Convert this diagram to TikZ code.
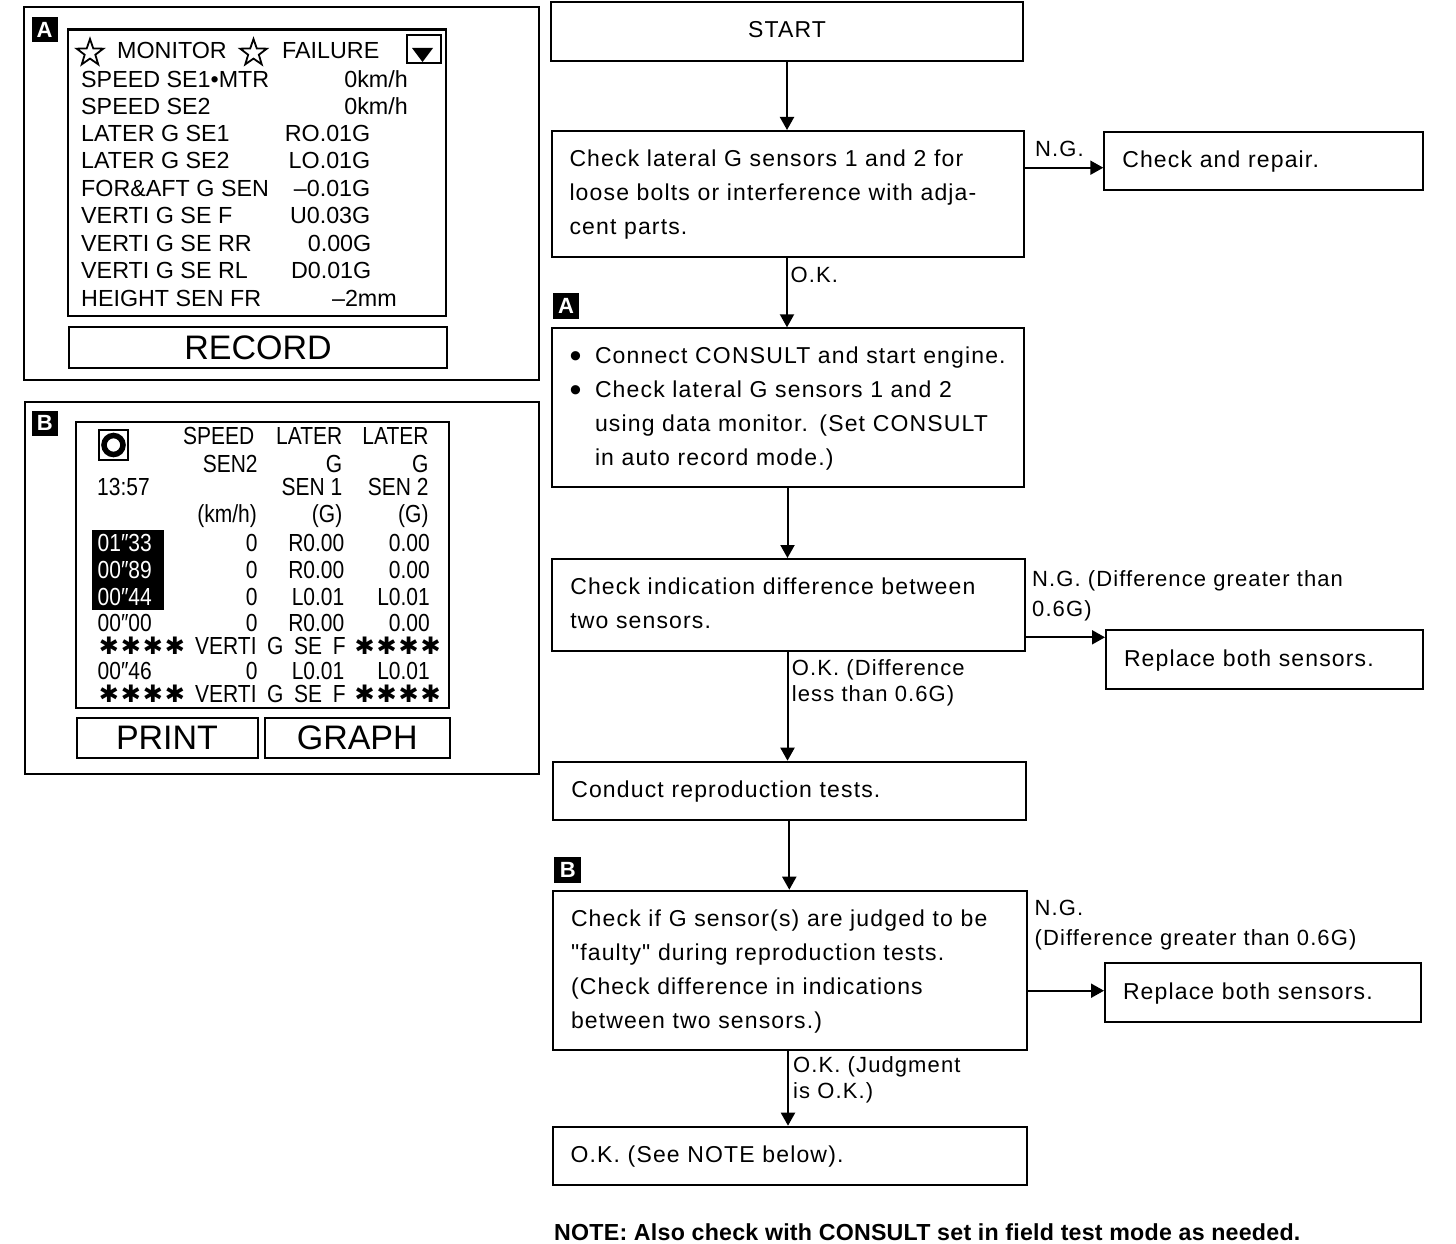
\documentclass[tikz,border=0pt]{standalone}
\usepackage{fontspec}
\setmainfont{Liberation Sans}
\newfontfamily\flowfont[LetterSpace=5]{Liberation Sans}
\newfontfamily\notefont[LetterSpace=1]{Liberation Sans}
\newfontfamily\scrBfont[FakeStretch=0.85]{Liberation Sans}
\newfontfamily\symfont{DejaVu Sans}
\usetikzlibrary{arrows.meta,shapes.geometric}
\newcommand{\astgroup}{{\symfont\fontsize{24}{21}\selectfont\makebox[22pt][l]{✱}\makebox[22pt][l]{✱}\makebox[22pt][l]{✱}✱}}
\newcommand{\bigbul}{\makebox[25.5pt][l]{\raisebox{-3.6pt}{\fontsize{34}{34}\selectfont •}}}
\begin{document}
\begin{tikzpicture}[x=1pt,y=-1pt,
  fbox/.style={draw, line width=2pt, inner xsep=18pt, inner ysep=0pt, align=left,
               font=\flowfont\fontsize{23}{34}\selectfont},
  lbl/.style={anchor=base west, inner sep=0pt, font=\flowfont\fontsize{22}{26}\selectfont},
  arr/.style={line width=2pt, -{Triangle[width=14pt,length=13pt]}},
  tag/.style={fill=black, text=white, inner sep=0pt, minimum width=26pt, minimum height=25pt,
              font=\bfseries\fontsize{22}{22}\selectfont},
  panel/.style={draw, line width=2pt},
  scr/.style={draw, line width=2.5pt},
  pa/.style={inner sep=0pt, font=\fontsize{23.3}{24}\selectfont},
  pal/.style={pa, anchor=base west},
  par/.style={pa, anchor=base east},
  pb/.style={inner sep=0pt, font=\scrBfont\fontsize{24.7}{25}\selectfont},
  pbl/.style={pb, anchor=base west},
  pbr/.style={pb, anchor=base east},
  btn/.style={draw, line width=2pt, inner sep=0pt, font=\fontsize{34}{34}\selectfont},
  hollowstar/.style={star, star points=5, star point ratio=2.5, draw, line width=1.8pt,
                     minimum size=28pt, inner sep=0pt}
]
\useasboundingbox (0,0) rectangle (1456,1244);

% ---------------- Panel A ----------------
\draw[panel] (24,7) rectangle (539,380);
\node[tag] (tagA) at (44.5,30) {A};
\draw[scr] (68,29.5) rectangle (446,316);
\node[hollowstar] (starA1) at (90,53) {};
\node[pal] (mon) at (117,59) {MONITOR};
\node[hollowstar] (starA2) at (253.5,53) {};
\node[pal] (fail) at (282,59) {FAILURE};
\draw[line width=2.5pt] (407,35) rectangle (441,63);
\fill (412,48) -- (433,48) -- (422.5,62) -- cycle;
\foreach \lab/\val/\vx/\by [count=\i] in {
  SPEED SE1•MTR/0km\slash h/408/87.5,
  SPEED SE2/0km\slash h/408/114.5,
  LATER G SE1/RO.01G/370.5/141.5,
  LATER G SE2/LO.01G/370.5/168.5,
  FOR\&AFT G SEN/–0.01G/370.5/196.5,
  VERTI G SE F/U0.03G/370.5/223.5,
  VERTI G SE RR/0.00G/371.5/251.5,
  VERTI G SE RL/D0.01G/371.5/278.5,
  HEIGHT SEN FR/–2mm/397/306.5}
{
  \node[pal] (alab\i) at (81,\by) {\lab};
  \node[par] (aval\i) at (\vx,\by) {\val};
}
\node[btn, minimum width=378pt, minimum height=41pt] (rec) at (258,347.5) {RECORD};

% ---------------- Panel B ----------------
\draw[panel] (25,401.5) rectangle (539,773.5);
\node[tag] (tagB) at (44.75,423) {B};
\draw[scr] (76,422) rectangle (449,708);
\draw[line width=2.5pt] (99,430) rectangle (128,460);
\draw[line width=5.5pt] (113.5,445) circle (9.5);
\fill (92,530) rectangle (164,610);
\node[pbr] (hs1) at (254.5,444) {SPEED};
\node[pbr] (hl1) at (342.5,444) {LATER};
\node[pbr] (hl2) at (428.7,444) {LATER};
\node[pbr] (hs2) at (257.8,472) {SEN2};
\node[pbr] (hg1) at (342.4,472) {G};
\node[pbr] (hg2) at (428.7,472) {G};
\node[pbl] (clock) at (97,495) {13:57};
\node[pbr] (hn1) at (342.4,495) {SEN 1};
\node[pbr] (hn2) at (428.7,495) {SEN 2};
\node[pbr] (hu0) at (257,522.5) {(km/h)};
\node[pbr] (hu1) at (342.5,522.5) {(G)};
\node[pbr] (hu2) at (428.7,522.5) {(G)};
\foreach \t/\a/\b/\c/\by/\col [count=\i] in {
  01″33/0/R0.00/0.00/551/white,
  00″89/0/R0.00/0.00/578/white,
  00″44/0/L0.01/L0.01/605/white,
  00″00/0/R0.00/0.00/631.5/black,
  00″46/0/L0.01/L0.01/679.5/black}
{
  \node[pbl, text=\col] (bt\i) at (97.5,\by) {\t};
  \node[pbr] (bs\i) at (257.8,\by) {\a};
  \node[pbr] (bg\i) at (344.5,\by) {\b};
  \node[pbr] (bh\i) at (430,\by) {\c};
}
\foreach \by [count=\i] in {654.5,702.5}
{
  \node[pbl] (astl\i) at (98.7,\by) {\astgroup};
  \node[pbl] (vert\i) at (195,\by) {VERTI\hspace{10.6pt}G\hspace{10.6pt}SE\hspace{10.6pt}F};
  \node[pbr] (astr\i) at (441,\by) {\astgroup};
}
\node[btn, minimum width=181pt, minimum height=40pt] (print) at (167,737.5) {PRINT};
\node[btn, minimum width=184.5pt, minimum height=40pt] (graph) at (357.25,737.5) {GRAPH};

% ---------------- Flowchart ----------------
\node[fbox, align=center, minimum width=472.6pt, minimum height=59pt, text width=436.6pt] (start) at (787,31.2) {\strut START};
\node[fbox, minimum width=472.5pt, minimum height=126pt, text width=436.5pt] (b2) at (787.75,194)
  {\strut Check lateral G sensors 1 and 2 for\\\strut loose bolts or interference with adja-\\\strut cent parts.};
\node[fbox, minimum width=318.4pt, minimum height=58.3pt, text width=282.4pt] (rep1) at (1263.5,160.85)
  {\strut Check and repair.};
\node[fbox, minimum width=472.5pt, minimum height=158.7pt, text width=436.5pt] (b3) at (787.75,407.65)
  {\strut\bigbul Connect CONSULT and start engine.\\
   \strut\bigbul Check lateral G sensors 1 and 2\\
   \strut\hspace*{25.5pt}using data monitor. (Set CONSULT\\
   \strut\hspace*{25.5pt}in auto record mode.)};
\node[fbox, minimum width=472.7pt, minimum height=91.7pt, text width=436.7pt] (b4) at (788.65,604.85)
  {\strut Check indication difference between\\\strut two sensors.};
\node[fbox, minimum width=317pt, minimum height=59pt, text width=281pt] (rep2) at (1264.5,659.5)
  {\strut Replace both sensors.};
\node[fbox, minimum width=472.7pt, minimum height=58.3pt, text width=436.7pt] (b5) at (789.65,790.85)
  {\strut Conduct reproduction tests.};
\node[fbox, minimum width=474pt, minimum height=159.3pt, text width=438pt] (b6) at (790,970.35)
  {\strut Check if G sensor(s) are judged to be\\\strut "faulty" during reproduction tests.\\\strut (Check difference in indications\\\strut between two sensors.)};
\node[fbox, minimum width=316pt, minimum height=58.7pt, text width=280pt] (rep3) at (1263,992.35)
  {\strut Replace both sensors.};
\node[fbox, minimum width=473.9pt, minimum height=58.3pt, text width=437.9pt] (b7) at (789.55,1155.85)
  {\strut O.K. (See NOTE below).};

\node[tag, minimum width=26.6pt, minimum height=26.6pt] (tagfA) at (566,306) {A};
\node[tag, minimum width=27pt, minimum height=26.6pt] (tagfB) at (567.9,870) {B};

% vertical arrows
\draw[arr] (start.south) -- (start.south |- b2.north);
\draw[arr] (b2.south -| start.south) -- (b3.north -| start.south);
\coordinate (x3) at (787.5,0);
\draw[arr] (b3.south -| x3) -- (b4.north -| x3);
\draw[arr] (b4.south -| x3) -- (b5.north -| x3);
\coordinate (x5) at (789.3,0);
\draw[arr] (b5.south -| x5) -- (b6.north -| x5);
\coordinate (x6) at (788,0);
\draw[arr] (b6.south -| x6) -- (b7.north -| x6);

% horizontal arrows
\coordinate (y1) at (0,167.7);
\coordinate (y2) at (0,637.3);
\coordinate (y3) at (0,990.7);
\draw[arr] (b2.east |- y1) -- (rep1.west |- y1);
\draw[arr] (b4.east |- y2) -- (rep2.west |- y2);
\draw[arr] (b6.east |- y3) -- (rep3.west |- y3);

% labels
\node[lbl] (ng1) at (1035,156.5) {N.G.};
\node[lbl] (ok1) at (790.5,282.7) {O.K.};
\node[lbl] (ng2a) at (1032,586.7) {N.G. (Difference greater than};
\node[lbl] (ng2b) at (1032,616.7) {0.6G)};
\node[lbl] (ok2a) at (791.7,675) {O.K. (Difference};
\node[lbl] (ok2b) at (791.7,701.7) {less than 0.6G)};
\node[lbl] (ng3a) at (1034.5,915) {N.G.};
\node[lbl] (ng3b) at (1034.5,945) {(Difference greater than 0.6G)};
\node[lbl] (ok3a) at (793,1072.3) {O.K. (Judgment};
\node[lbl] (ok3b) at (793,1098.3) {is O.K.)};

\node[anchor=base west, inner sep=0pt, font=\notefont\bfseries\fontsize{23.2}{26}\selectfont] (note) at (554,1240)
  {NOTE: Also check with CONSULT set in field test mode as needed.};
\end{tikzpicture}
\end{document}
